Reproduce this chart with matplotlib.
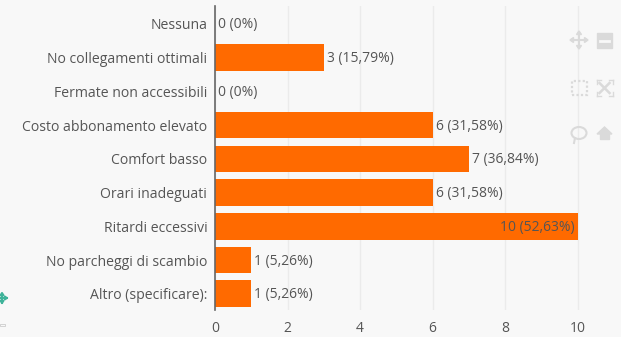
import matplotlib
matplotlib.use('Agg')
import matplotlib.pyplot as plt
from matplotlib.lines import Line2D
from matplotlib.patches import Rectangle, Ellipse, Polygon

categorie = ['Nessuna', 'No collegamenti ottimali', 'Fermate non accessibili',
             'Costo abbonamento elevato', 'Comfort basso', 'Orari inadeguati',
             'Ritardi eccessivi', 'No parcheggi di scambio', 'Altro (specificare):']
valori = [0, 3, 0, 6, 7, 6, 10, 1, 1]
etichette = ['0 (0%)', '3 (15,79%)', '0 (0%)', '6 (31,58%)', '7 (36,84%)',
             '6 (31,58%)', '10 (52,63%)', '1 (5,26%)', '1 (5,26%)']
tick_x = [0, 2, 4, 6, 8, 10]

plt.rcParams['font.family'] = ['Open Sans', 'DejaVu Sans']
testo = '#555555'
sfondo = '#f8f8f8'
icone = '#dadada'

fig = plt.figure(figsize=(6.21, 3.37), dpi=100, facecolor=sfondo)
ax = fig.add_axes([215 / 621, 1 - 310 / 337, (613 - 215) / 621, 304 / 337], facecolor=sfondo)

ax.barh(range(len(categorie)), valori, height=0.79, color='#ff6a00', zorder=2)
ax.set_xlim(0, 10.97)
ax.set_ylim(len(categorie) - 0.52, -0.53)

for i, v in enumerate(valori):
    if v == 10:
        ax.text(v - 0.08, i + 0.03, etichette[i], ha='right', va='center', fontsize=10, color=testo, zorder=3)
    else:
        ax.text(v + 0.08, i + 0.03, etichette[i], ha='left', va='center', fontsize=10, color=testo, zorder=3)

ax.set_yticks(range(len(categorie)))
ax.set_yticklabels(categorie, fontsize=10.1, color=testo)
ax.set_xticks(tick_x)
ax.set_xticklabels([str(t) for t in tick_x], fontsize=10, color=testo)
ax.tick_params(axis='both', length=0)
ax.tick_params(axis='x', pad=8)
ax.tick_params(axis='y', pad=5.5)
ax.grid(axis='x', color='#ebebeb', linewidth=1, zorder=0)
for s in ['top', 'right', 'bottom']:
    ax.spines[s].set_visible(False)
ax.spines['left'].set_color('#666666')
ax.spines['left'].set_linewidth(1.2)
ax.spines['left'].set_zorder(4)


# icone della toolbar, coordinate in pixel dell'immagine
def px(x, y):
    return x / 621, 1 - y / 337


def linea(x0, y0, x1, y1, colore=icone, lw=1.5, ls='-'):
    a, b = px(x0, y0)
    c, d = px(x1, y1)
    fig.add_artist(Line2D([a, c], [b, d], transform=fig.transFigure, color=colore, linewidth=lw, linestyle=ls))


def freccia_croce(x, y, r, colore=icone, lw=1.5, p=2.5):
    linea(x - r, y, x + r, y, colore, lw)
    linea(x, y - r, x, y + r, colore, lw)
    for dx, dy in [(1, 0), (-1, 0), (0, 1), (0, -1)]:
        punta = [px(x + dx * (r + 1), y + dy * (r + 1)),
                 px(x + dx * (r - p) + dy * p, y + dy * (r - p) + dx * p),
                 px(x + dx * (r - p) - dy * p, y + dy * (r - p) - dx * p)]
        fig.add_artist(Polygon(punta, transform=fig.transFigure, color=colore))


freccia_croce(579, 40, 8)

# meno
xf, yf = px(597, 48)
fig.add_artist(Rectangle((xf, yf), 15 / 621, 15 / 337, transform=fig.transFigure, color=icone))
linea(600, 40.5, 609, 40.5, sfondo, 2)

# selezione
xf, yf = px(572, 95)
fig.add_artist(Rectangle((xf, yf), 15 / 621, 14 / 337, transform=fig.transFigure, fill=False,
                         edgecolor=icone, linewidth=1.6, linestyle=(0, (1, 1))))

# zoom reset
for sx, sy in [(-1, -1), (1, -1), (-1, 1), (1, 1)]:
    linea(604.5 + sx * 8, 88 + sy * 8, 604.5 + sx * 4, 88 + sy * 8, icone, 1)
    linea(604.5 + sx * 8, 88 + sy * 8, 604.5 + sx * 8, 88 + sy * 4, icone, 1)
    linea(604.5 + sx * 5, 88 + sy * 5, 604.5 + sx * 1, 88 + sy * 1, icone, 1.8)

# fumetto
xf, yf = px(579, 133)
fig.add_artist(Ellipse((xf, yf), 15 / 621, 12 / 337, transform=fig.transFigure, fill=False,
                       edgecolor=icone, linewidth=1.5))
linea(575, 138, 574, 143, icone, 1.5)

# casa
tetto = [px(597, 134), px(604.5, 127), px(612, 134)]
fig.add_artist(Polygon(tetto, transform=fig.transFigure, color=icone))
xf, yf = px(600, 139)
fig.add_artist(Rectangle((xf, yf), 9 / 621, 6 / 337, transform=fig.transFigure, color=icone))

# resto a sinistra
freccia_croce(2, 298, 4.5, '#3fb39a', 1.5, 2)
xf, yf = px(0, 326)
fig.add_artist(Rectangle((xf, yf), 5 / 621, 2 / 337, transform=fig.transFigure, fill=False,
                         edgecolor='#cccccc', linewidth=0.6))

fig.savefig('out.png', dpi=100, facecolor=sfondo)
